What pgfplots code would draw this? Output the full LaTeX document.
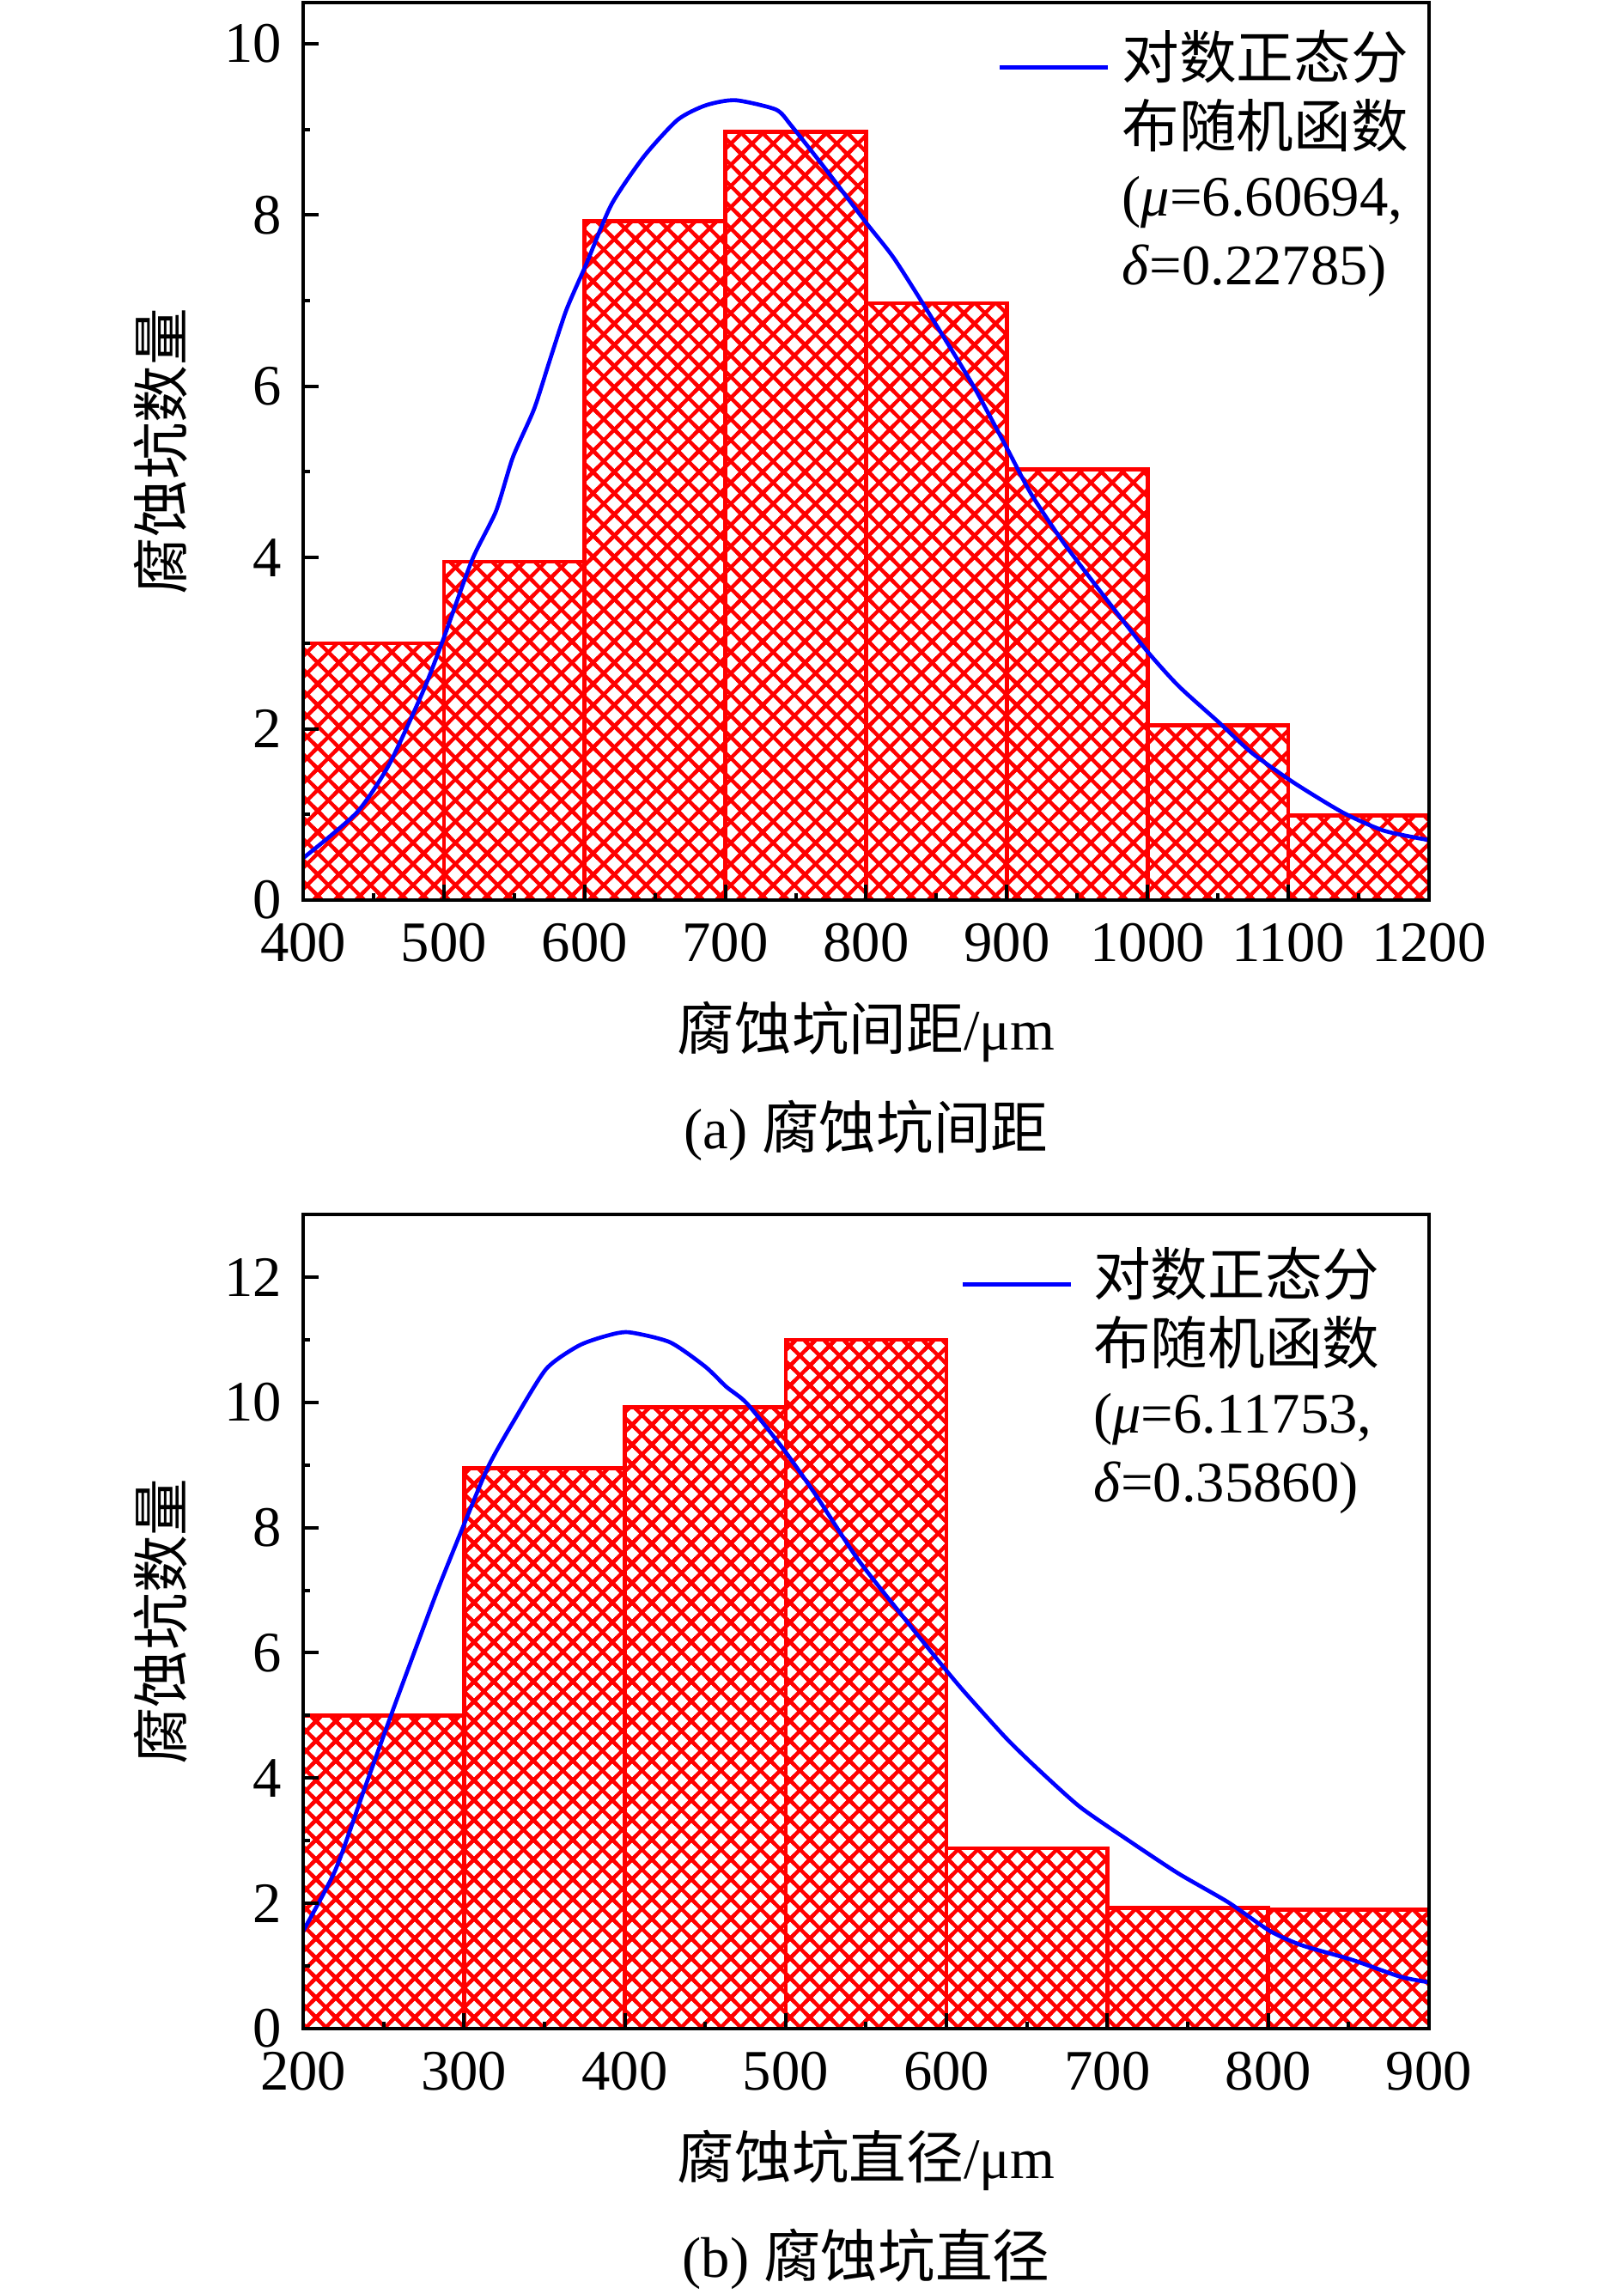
\documentclass[border=0pt]{standalone}
\usepackage{fontspec}
\setmainfont{Liberation Serif}
\newfontfamily\cjk{Noto Sans CJK SC}
\usepackage{pgfplots}
\pgfplotsset{compat=1.18}
\usetikzlibrary{patterns.meta}

\tikzdeclarepattern{
  name=xhatchA, type=uncolored,
  bottom left={(-1pt,-1pt)}, top right={(4.7pt,4.7pt)}, tile size={(3.7pt,3.7pt)},
  code={
    \pgfsetlinewidth{0.65pt}
    \pgfpathmoveto{\pgfpoint{-1pt}{-1pt}}\pgfpathlineto{\pgfpoint{4.7pt}{4.7pt}}
    \pgfpathmoveto{\pgfpoint{-1pt}{4.7pt}}\pgfpathlineto{\pgfpoint{4.7pt}{-1pt}}
    \pgfusepath{stroke}
  }
}
\tikzdeclarepattern{
  name=xhatchB, type=uncolored,
  bottom left={(-1pt,-1pt)}, top right={(4.45pt,4.45pt)}, tile size={(3.45pt,3.45pt)},
  code={
    \pgfsetlinewidth{0.65pt}
    \pgfpathmoveto{\pgfpoint{-1pt}{-1pt}}\pgfpathlineto{\pgfpoint{4.45pt}{4.45pt}}
    \pgfpathmoveto{\pgfpoint{-1pt}{4.45pt}}\pgfpathlineto{\pgfpoint{4.45pt}{-1pt}}
    \pgfusepath{stroke}
  }
}

\pgfplotsset{
  mystyle/.style={
    scale only axis, axis on top,
    axis line style={line width=0.62pt},
    every tick/.style={black, line width=0.6pt},
    major tick length=2.7pt, minor tick length=1.25pt,
    tick align=inside,
    xtick pos=bottom, ytick pos=left,
    minor x tick num=1, minor y tick num=1,
    ymin=0,
    tick label style={font=\fontsize{10}{12}\selectfont},
    xticklabel style={inner sep=0pt, yshift=-3.8pt},
    yticklabel style={inner sep=0pt, xshift=-3.5pt},
    /pgf/number format/assume math mode=true,
    /pgf/number format/1000 sep={},
    scaled ticks=false,
    label style={font=\fontsize{10}{12}\selectfont},
    ylabel style={at={(axis description cs:-0.1266,0.5)}, anchor=center},
    legend cell align=left,
    legend image code/.code={\draw[blue, line width=0.7pt] (0pt,0pt) -- (18.9pt,0pt);},
  }
}

\begin{document}
\begin{tikzpicture}
\useasboundingbox (0,0) rectangle (283.5pt,-400.65pt);

% (a)
\begin{axis}[mystyle, name=pa,
  at={(52.95pt,-157.2pt)}, anchor=south west,
  width=196.65pt, height=156.75pt,
  xmin=400, xmax=1200, ymax=10.48,
  xtick={400,500,...,1200}, ytick={0,2,...,10},
  xlabel={{\cjk 腐蚀坑间距}/μm},
  xlabel style={at={(axis description cs:0.5,0)}, anchor=center, yshift=-23pt},
  ylabel={\cjk 腐蚀坑数量},
  legend style={at={(rel axis cs:0.616,0.9675)}, anchor=north west, draw=none, fill=none,
    inner sep=0pt, row sep=0pt, column sep=2.1pt,
    nodes={inner sep=0pt, text height=8pt, text depth=4pt, font=\fontsize{10}{12}\selectfont}},
]
\addplot[ybar interval, draw=red, line width=0.7pt, pattern=xhatchA, pattern color=red, forget plot]
  coordinates {(400,3.0) (500,3.95) (600,7.93) (700,8.97) (800,6.97) (900,5.03) (1000,2.04) (1100,0.99) (1200,0.99)};
\addplot[blue, line width=0.7pt, smooth, tension=0.4] coordinates {
(400,0.49) (438,1.02) (461,1.58) (485,2.43) (499,3.02) (520,3.97) (537,4.54) (549,5.17)
(564,5.73) (575,6.29) (587,6.89) (601,7.42) (619,8.12) (642,8.68) (666,9.11) (686,9.28)
(707,9.34) (736,9.23) (747,9.04) (771,8.54) (800,7.91) (820,7.49) (847,6.79) (876,6.01)
(899,5.31) (917,4.75) (940,4.18) (969,3.55) (999,2.92) (1022,2.50) (1051,2.07) (1074,1.72)
(1104,1.37) (1139,1.02) (1168,0.81) (1200,0.70)};
\addlegendentry{\cjk 对数正态分}
\addlegendimage{empty legend}\addlegendentry{\cjk 布随机函数}
\addlegendimage{empty legend}\addlegendentry{(\textit{μ}=6.60694,}
\addlegendimage{empty legend}\addlegendentry{\textit{δ}=0.22785)}
\end{axis}
\node[font=\fontsize{10}{12}\selectfont, anchor=center] at ([yshift=-40.2pt]pa.south) {(a) {\cjk 腐蚀坑间距}};

% (b)
\begin{axis}[mystyle, name=pb,
  at={(52.95pt,-354.3pt)}, anchor=south west,
  width=196.65pt, height=142.2pt,
  xmin=200, xmax=900, ymax=13,
  xtick={200,300,...,900}, ytick={0,2,...,12},
  xlabel={{\cjk 腐蚀坑直径}/μm},
  xlabel style={at={(axis description cs:0.5,0)}, anchor=center, yshift=-23pt},
  ylabel={\cjk 腐蚀坑数量},
  legend style={at={(rel axis cs:0.583,0.958)}, anchor=north west, draw=none, fill=none,
    inner sep=0pt, row sep=0pt, column sep=3.6pt,
    nodes={inner sep=0pt, text height=8pt, text depth=4pt, font=\fontsize{10}{12}\selectfont}},
]
\addplot[ybar interval, draw=red, line width=0.7pt, pattern=xhatchB, pattern color=red, forget plot]
  coordinates {(200,5.0) (300,8.95) (400,9.92) (500,11.0) (600,2.88) (700,1.93) (800,1.90) (900,1.90)};
\addplot[blue, line width=0.7pt, smooth, tension=0.4] coordinates {
(200,1.56) (220,2.53) (238,3.82) (256,5.10) (272,6.21) (284,7.03) (300,8.05) (315,8.97)
(330,9.66) (351,10.53) (371,10.90) (387,11.05) (402,11.12) (428,10.96) (450,10.57) (463,10.25)
(476,9.98) (499,9.24) (519,8.51) (545,7.49) (576,6.48) (596,5.84) (611,5.38) (637,4.64)
(657,4.14) (683,3.54) (714,2.99) (744,2.48) (775,2.02) (801,1.56) (821,1.33) (852,1.10)
(882,0.83) (900,0.74)};
\addlegendentry{\cjk 对数正态分}
\addlegendimage{empty legend}\addlegendentry{\cjk 布随机函数}
\addlegendimage{empty legend}\addlegendentry{(\textit{μ}=6.11753,}
\addlegendimage{empty legend}\addlegendentry{\textit{δ}=0.35860)}
\end{axis}
\node[font=\fontsize{10}{12}\selectfont, anchor=center] at ([yshift=-40.2pt]pb.south) {(b) {\cjk 腐蚀坑直径}};
\end{tikzpicture}
\end{document}
